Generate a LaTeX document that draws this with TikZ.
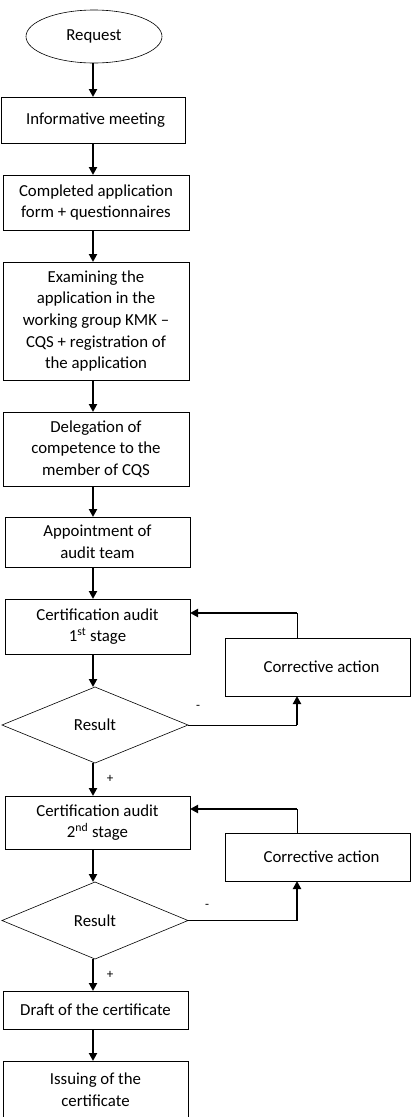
\documentclass[tikz,border=0pt]{standalone}
\usepackage{fontspec}
\setmainfont{Carlito}
\usetikzlibrary{shapes.geometric,arrows.meta}
\begin{document}
\begin{tikzpicture}[x=1pt,y=-1pt,
  every node/.style={inner sep=0pt,outer sep=0pt},
  box/.style={draw,line width=0.8pt,rectangle,align=center,font=\fontsize{16.8}{21.7}\selectfont},
  oval/.style={draw,line width=0.6pt,ellipse,font=\fontsize{16.8}{21.7}\selectfont},
  dia/.style={draw,line width=0.6pt,diamond,font=\fontsize{16.8}{21.7}\selectfont},
  arr/.style={line width=2pt,-{Triangle[width=8pt,length=8pt]}},
  thinline/.style={line width=0.8pt},
  sign/.style={font=\fontsize{13}{15}\selectfont}]
\useasboundingbox (0,0) rectangle (420,1117);
\node[oval,minimum width=136pt,minimum height=53pt] (req) at (94,36.5) {\raisebox{-3pt}{Request}};
\node[box,minimum width=184pt,minimum height=46pt] (b1) at (93,120) {\hspace*{5pt}Informative meeting};
\node[box,minimum width=186pt,minimum height=55pt] (b2) at (96,202.5) {Completed application\\form + questionnaires};
\node[box,minimum width=186pt,minimum height=118pt] (b3) at (96,321) {Examining the\\application in the\\working group KMK –\\CQS + registration of\\the application};
\node[box,minimum width=186pt,minimum height=74pt] (b4) at (96,449) {Delegation of\\competence to the\\member of CQS};
\node[box,minimum width=185pt,minimum height=50pt] (b5) at (97.5,542) {Appointment of\\audit team};
\node[box,minimum width=185pt,minimum height=55pt] (a1) at (97.5,626.5) {Certification audit\\1\textsuperscript{st} stage};
\node[box,minimum width=185pt,minimum height=58pt] (c1) at (317.5,667) {\hspace*{8pt}Corrective action};
\node[dia,minimum width=186pt,minimum height=76pt] (d1) at (95,725) {Result};
\node[box,minimum width=185pt,minimum height=53pt] (a2) at (97.5,822.5) {Certification audit\\2\textsuperscript{nd} stage};
\node[box,minimum width=185pt,minimum height=48pt] (c2) at (317.5,857) {\hspace*{8pt}Corrective action};
\node[dia,minimum width=186pt,minimum height=77pt] (d2) at (95,920.5) {Result};
\node[box,minimum width=185pt,minimum height=38pt] (dr) at (95.5,1010) {Draft of the certificate};
\node[box,minimum width=185pt,minimum height=57pt] (is) at (95.5,1089.5) {Issuing of the\\certificate};
\coordinate (ax) at (93,0);
\draw[arr] (req.south -| ax) -- (b1.north -| ax);
\draw[arr] (b1.south -| ax) -- (b2.north -| ax);
\draw[arr] (b2.south -| ax) -- (b3.north -| ax);
\draw[arr] (b3.south -| ax) -- (b4.north -| ax);
\draw[arr] (b4.south -| ax) -- (b5.north -| ax);
\draw[arr] (b5.south -| ax) -- (a1.north -| ax);
\draw[arr] (a1.south -| ax) -- (d1.north -| ax);
\draw[arr] (d1.south -| ax) -- (a2.north -| ax);
\draw[arr] (a2.south -| ax) -- (d2.north -| ax);
\draw[arr] (d2.south -| ax) -- (dr.north -| ax);
\draw[arr] (dr.south -| ax) -- (is.north -| ax);
% loop 1
\coordinate (k1) at (297,613);
\coordinate (m1) at (297,725);
\draw[thinline] (c1.north -| k1) -- (k1);
\draw[arr] (k1) -- (a1.east |- k1);
\draw[thinline] (d1.east) -- (m1);
\draw[arr] (m1) -- (c1.south -| m1);
% loop 2
\coordinate (k2) at (297,809);
\coordinate (m2) at (297,920.5);
\draw[thinline] (c2.north -| k2) -- (k2);
\draw[arr] (k2) -- (a2.east |- k2);
\draw[thinline] (d2.east) -- (m2);
\draw[arr] (m2) -- (c2.south -| m2);
% signs
\node[sign] (s1) at (198,707) {-};
\node[sign] (p1) at (110,779) {+};
\node[sign] (s2) at (207,906) {-};
\node[sign] (p2) at (110,975) {+};
\end{tikzpicture}
\end{document}
